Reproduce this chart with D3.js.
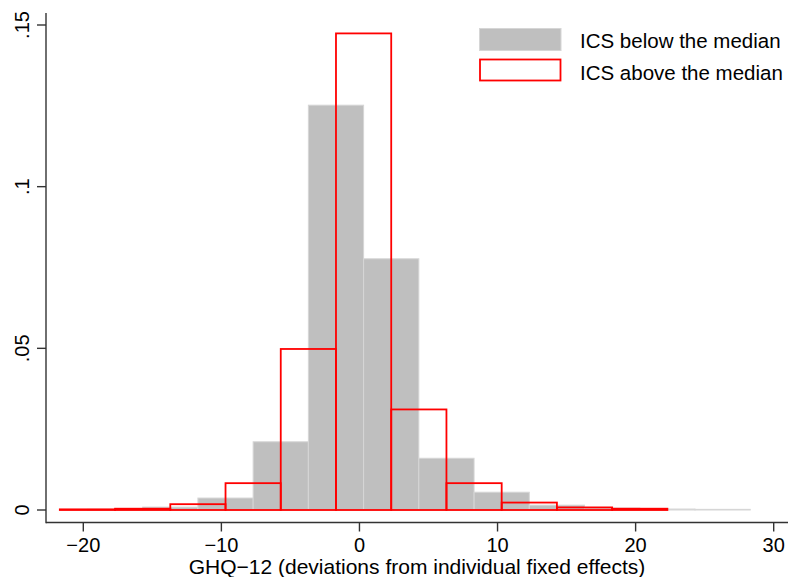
<!DOCTYPE html>
<html>
<head>
<meta charset="utf-8">
<script src="https://cdn.jsdelivr.net/npm/d3@7"></script>
<style>
  body { margin: 0; background: #fff; }
  text { font-family: "Liberation Sans", Arial, sans-serif; fill: #000; }
</style>
</head>
<body>
<div id="chart"></div>
<script>
// histogram bins (left edges), bin width 4
var binWidth = 4;
var grayEdges = [-19.7, -15.7, -11.7, -7.7, -3.7, 0.3, 4.3, 8.3, 12.3, 16.3, 20.3, 24.3];
var grayDensity = [0.0002, 0.0009, 0.0037, 0.0211, 0.1252, 0.0777, 0.0160, 0.0055, 0.0015, 0.0006, 0.0003, 0.0002];
var redEdges = [-21.7, -17.7, -13.7, -9.7, -5.7, -1.7, 2.3, 6.3, 10.3, 14.3, 18.3];
var redDensity = [0.0002, 0.0004, 0.0018, 0.0083, 0.0498, 0.1474, 0.0311, 0.0083, 0.0023, 0.0008, 0.0004];

var xTicks = [-20, -10, 0, 10, 20, 30];
var yTicks = [0, 0.05, 0.1, 0.15];
var yTickLabels = ["0", ".05", ".1", ".15"];
var legendLabels = ["ICS below the median", "ICS above the median"];
var xTitle = "GHQ\u221212 (deviations from individual fixed effects)";

var width = 791, height = 577;

var svg = d3.select("#chart").append("svg")
    .attr("width", width)
    .attr("height", height);

// scales
var x = d3.scaleLinear().domain([-20, 30]).range([83.3, 773.7]);
var y = d3.scaleLinear().domain([0, 0.15]).range([510, 25]);

var axisY = 522.5, axisX = 46;

// gray bars
var grayData = grayEdges.map(function (e, i) { return { x0: e, x1: e + binWidth, v: grayDensity[i] }; });
svg.append("g").selectAll("rect")
    .data(grayData)
    .enter().append("rect")
    .attr("x", function (d) { return x(d.x0); })
    .attr("y", function (d) { return y(d.v); })
    .attr("width", function (d) { return x(d.x1) - x(d.x0); })
    .attr("height", function (d) { return y(0) - y(d.v); })
    .style("fill", "#bfbfbf")
    .style("stroke", "#d6d6d6")
    .style("stroke-width", 1);

// red outline bars
var redData = redEdges.map(function (e, i) { return { x0: e, x1: e + binWidth, v: redDensity[i] }; });
svg.append("g").selectAll("rect")
    .data(redData)
    .enter().append("rect")
    .attr("x", function (d) { return x(d.x0); })
    .attr("y", function (d) { return y(d.v); })
    .attr("width", function (d) { return x(d.x1) - x(d.x0); })
    .attr("height", function (d) { return y(0) - y(d.v); })
    .style("fill", "none")
    .style("stroke", "#ff0000")
    .style("stroke-width", 1.8);

// x axis
var xAxis = svg.append("g").attr("transform", "translate(0," + axisY + ")");
xAxis.append("line")
    .attr("x1", axisX).attr("x2", 788)
    .style("stroke", "#333").style("stroke-width", 1.4);
xAxis.selectAll("line.tick")
    .data(xTicks).enter().append("line")
    .attr("class", "tick")
    .attr("x1", function (d) { return x(d); }).attr("x2", function (d) { return x(d); })
    .attr("y1", 0).attr("y2", 9)
    .style("stroke", "#333").style("stroke-width", 1.4);
xAxis.selectAll("text")
    .data(xTicks).enter().append("text")
    .attr("x", function (d) { return x(d); })
    .attr("y", 29.5)
    .attr("text-anchor", "middle")
    .style("font-size", "20px")
    .text(function (d) { return d < 0 ? "\u2212" + Math.abs(d) : d; });

svg.append("text")
    .attr("x", 417)
    .attr("y", 574)
    .attr("text-anchor", "middle")
    .style("font-size", "21px")
    .text(xTitle);

// y axis
var yAxis = svg.append("g").attr("transform", "translate(" + axisX + ",0)");
yAxis.append("line")
    .attr("y1", 13).attr("y2", axisY + 0.7)
    .style("stroke", "#333").style("stroke-width", 1.4);
yAxis.selectAll("line.tick")
    .data(yTicks).enter().append("line")
    .attr("class", "tick")
    .attr("y1", function (d) { return y(d); }).attr("y2", function (d) { return y(d); })
    .attr("x1", 0).attr("x2", -9)
    .style("stroke", "#333").style("stroke-width", 1.4);
yAxis.selectAll("text")
    .data(yTicks).enter().append("text")
    .attr("transform", function (d) { return "translate(-17.5," + y(d) + ") rotate(-90)"; })
    .attr("text-anchor", "middle")
    .style("font-size", "20px")
    .text(function (d, i) { return yTickLabels[i]; });

// legend
var legend = svg.append("g");
legend.append("rect")
    .attr("x", 479.5).attr("y", 28.5).attr("width", 81.5).attr("height", 22)
    .style("fill", "#bfbfbf").style("stroke", "#d6d6d6");
legend.append("rect")
    .attr("x", 480).attr("y", 59.5).attr("width", 80.5).attr("height", 21)
    .style("fill", "#fff").style("stroke", "#ff0000").style("stroke-width", 1.8);
legend.selectAll("text")
    .data(legendLabels).enter().append("text")
    .attr("x", 580)
    .attr("y", function (d, i) { return 48 + i * 31.5; })
    .style("font-size", "20.5px")
    .text(function (d) { return d; });
</script>
</body>
</html>
